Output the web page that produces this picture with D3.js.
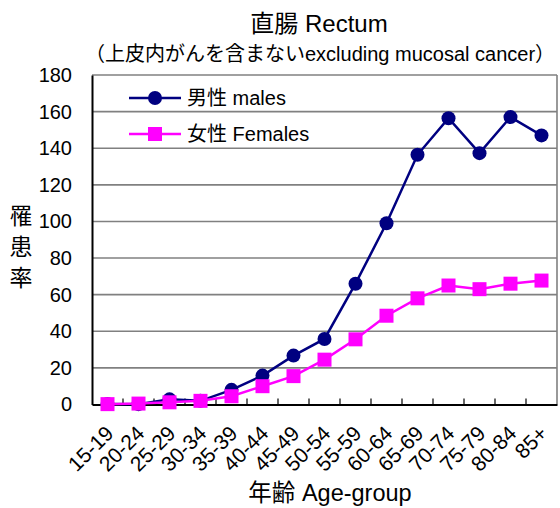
<!DOCTYPE html>
<html>
<head>
<meta charset="utf-8">
<script src="https://cdn.jsdelivr.net/npm/d3@7"></script>
<style>
html,body{margin:0;padding:0;background:#fff;}
svg{display:block;}
text{font-family:"Liberation Sans",Arial,"Noto Sans CJK JP",sans-serif;fill:#000;}
</style>
</head>
<body>
<svg id="chart" width="560" height="508"></svg>
<script>
const categories = ["15-19","20-24","25-29","30-34","35-39","40-44","45-49","50-54","55-59","60-64","65-69","70-74","75-79","80-84","85+"];
const males   = [0.3, 0.2, 2.8, 2.0, 8.0, 15.8, 26.7, 35.8, 66.0, 99.0, 136.4, 156.4, 137.3, 157.0, 147.0];
const females = [0.2, 0.5, 1.2, 2.0, 4.5, 10.0, 15.5, 24.5, 35.6, 48.5, 58.0, 65.0, 63.0, 66.0, 67.7];
const yTicks  = [0,20,40,60,80,100,120,140,160,180];
const seriesNames = ["男性 males","女性 Females"];
const title = "直腸 Rectum";
const subtitle = "（上皮内がんを含まないexcluding mucosal cancer）";
const yTitle = ["罹","患","率"];
const xTitle = "年齢 Age-group";

const svg = d3.select("#chart");
const L = 92, R = 557, T = 75, B = 404.5;
const MALE = "#000080", FEMALE = "#FF00FF";

const x = d3.scaleBand().domain(categories).range([L, R]).padding(0);
const y = d3.scaleLinear().domain([0,180]).range([B, T]);

// gridlines
svg.append("g").selectAll("line").data(yTicks.filter(d=>d>0)).join("line")
  .attr("x1", L).attr("x2", R).attr("y1", d=>y(d)).attr("y2", d=>y(d))
  .attr("stroke", "#808080").attr("stroke-width", 1.6);
// right border
svg.append("line").attr("x1", R).attr("x2", R).attr("y1", T).attr("y2", B)
  .attr("stroke", "#808080").attr("stroke-width", 1.6);

// y axis
const yAxis = d3.axisLeft(y).tickValues(yTicks).tickSize(0).tickPadding(20);
const gy = svg.append("g").attr("transform", `translate(${L},0)`).call(yAxis);
gy.select(".domain").attr("stroke", "#000").attr("stroke-width", 2);
gy.selectAll("text").attr("font-size", 20).attr("font-family", "'Liberation Sans',Arial,sans-serif");

// x axis
const xAxis = d3.axisBottom(x).tickSize(0).tickFormat("");
const gx = svg.append("g").attr("transform", `translate(0,${B})`).call(xAxis);
gx.select(".domain").attr("stroke", "#000").attr("stroke-width", 2);
// inner tick marks at category boundaries
svg.append("g").selectAll("line").data(categories.slice(1)).join("line")
  .attr("x1", d=>x(d)).attr("x2", d=>x(d)).attr("y1", B).attr("y2", B-6)
  .attr("stroke", "#000").attr("stroke-width", 1.2);
// rotated labels
svg.append("g").selectAll("text").data(categories).join("text")
  .attr("transform", d=>`translate(${x(d)+x.bandwidth()/2+2},${B+25}) rotate(-45)`)
  .attr("text-anchor", "end").attr("dy", "0.35em")
  .attr("font-size", 21).text(d=>d);

// lines and markers
const line = d3.line().x((d,i)=>x(categories[i])+x.bandwidth()/2).y(d=>y(d));
svg.append("path").datum(males).attr("d", line).attr("fill","none").attr("stroke",MALE).attr("stroke-width",2.5);
svg.append("g").selectAll("circle").data(males).join("circle")
  .attr("cx",(d,i)=>x(categories[i])+x.bandwidth()/2).attr("cy",d=>y(d)).attr("r",7).attr("fill",MALE);
svg.append("path").datum(females).attr("d", line).attr("fill","none").attr("stroke",FEMALE).attr("stroke-width",2.5);
const sq = 14;
svg.append("g").selectAll("rect").data(females).join("rect")
  .attr("x",(d,i)=>x(categories[i])+x.bandwidth()/2-sq/2).attr("y",d=>y(d)-sq/2)
  .attr("width",sq).attr("height",sq).attr("fill",FEMALE);

// legend
const leg = svg.append("g");
const legY = [98, 134];
[MALE, FEMALE].forEach((c,i)=>{
  leg.append("line").attr("x1",129).attr("x2",181).attr("y1",legY[i]).attr("y2",legY[i]).attr("stroke",c).attr("stroke-width",2.5);
  if(i===0) leg.append("circle").attr("cx",155).attr("cy",legY[i]).attr("r",7).attr("fill",c);
  else leg.append("rect").attr("x",155-sq/2).attr("y",legY[i]-sq/2).attr("width",sq).attr("height",sq).attr("fill",c);
  leg.append("text").attr("x",187).attr("y",legY[i]).attr("dy","0.36em").attr("font-size",20).text(seriesNames[i]);
});

// titles
svg.append("text").attr("x",319).attr("y",32).attr("text-anchor","middle").attr("font-size",24).text(title);
svg.append("text").attr("x",320).attr("y",61).attr("text-anchor","middle").attr("font-size",20).text(subtitle);
svg.append("text").attr("x",330).attr("y",501).attr("text-anchor","middle").attr("font-size",23.5).text(xTitle);
svg.append("g").selectAll("text").data(yTitle).join("text")
  .attr("x",21).attr("y",(d,i)=>224+i*31).attr("text-anchor","middle").attr("font-size",23).text(d=>d);
</script>
</body>
</html>
